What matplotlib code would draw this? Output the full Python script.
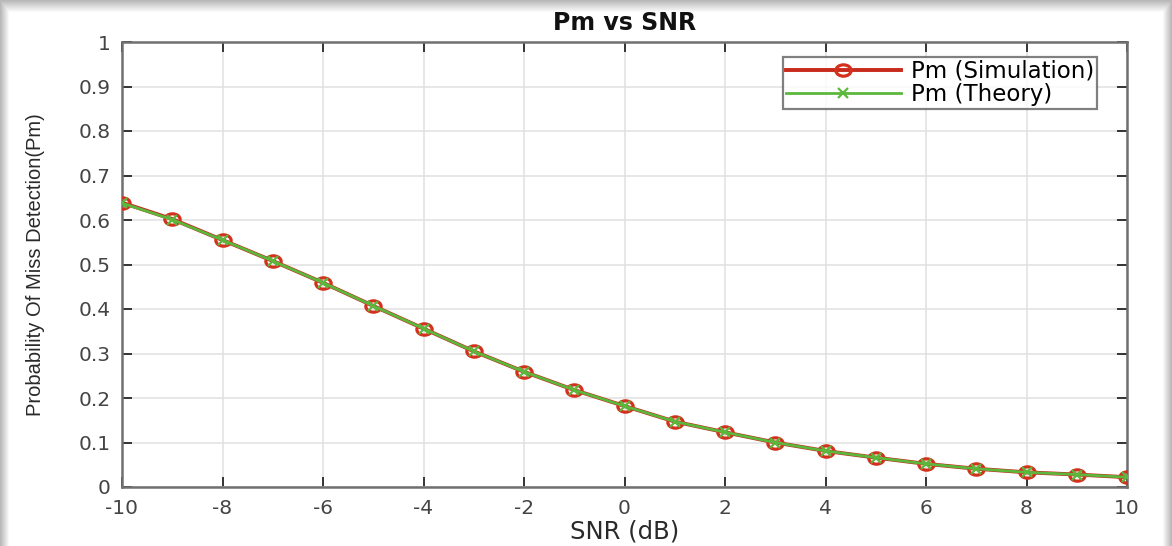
import matplotlib
matplotlib.use("Agg")
import matplotlib.pyplot as plt
import numpy as np
from matplotlib.path import Path
from matplotlib.transforms import Affine2D

# SNR in dB and probability of miss detection
snr_db = [-10, -9, -8, -7, -6, -5, -4, -3, -2, -1, 0, 1, 2, 3, 4, 5, 6, 7, 8, 9, 10]
pm_sim = [0.639, 0.602, 0.555, 0.508, 0.459, 0.407, 0.356, 0.305, 0.259, 0.218,
          0.182, 0.147, 0.123, 0.100, 0.081, 0.066, 0.052, 0.041, 0.033, 0.028, 0.022]
pm_theory = [0.638, 0.601, 0.555, 0.508, 0.459, 0.407, 0.356, 0.305, 0.259, 0.218,
             0.182, 0.147, 0.123, 0.100, 0.081, 0.066, 0.052, 0.041, 0.033, 0.028, 0.022]
xticks = list(range(-10, 11, 2))
yticks = [0, 0.1, 0.2, 0.3, 0.4, 0.5, 0.6, 0.7, 0.8, 0.9, 1]
ytick_labels = ["0", "0.1", "0.2", "0.3", "0.4", "0.5", "0.6", "0.7", "0.8", "0.9", "1"]

plt.rcParams["font.family"] = ["DejaVu Sans"]
plt.rcParams["axes.unicode_minus"] = False

W, H = 1172, 546
fig = plt.figure(figsize=(W / 100, H / 100), dpi=100)

# framed picture look: grey drop shadow at the top and sides
bg = fig.add_axes([0, 0, 1, 1], zorder=-5)
bg.axis("off")
img = np.ones((H, W))
top = np.clip(np.arange(H) / 12.0, 0, 1)
left = np.clip(np.arange(W) / 9.0, 0, 1)
right = np.clip((W - 1 - np.arange(W)) / 9.0, 0, 1)
img = np.minimum(img, 0.72 + 0.28 * top[:, None])
img = np.minimum(img, 0.72 + 0.28 * left[None, :])
img = np.minimum(img, 0.72 + 0.28 * right[None, :])
bg.imshow(img, cmap="gray", vmin=0, vmax=1, aspect="auto", interpolation="bilinear")

ax = fig.add_axes([122 / W, 1 - 487 / H, (1127 - 122) / W, (487 - 42) / H])

# the source image is stretched sideways, so circles come out as ellipses
oval = Path.unit_circle().transformed(Affine2D().scale(1.35, 1.0))

ax.plot(snr_db, pm_sim, color="#c82a1c", linewidth=2.8, marker=oval, markersize=11,
        markeredgecolor="#d4301e", markerfacecolor="none", markeredgewidth=2.3,
        label="Pm (Simulation)", zorder=3)
ax.plot(snr_db, pm_theory, color="#5cb83c", linewidth=2.0, marker="x", markersize=7,
        markeredgewidth=1.6, label="Pm (Theory)", zorder=4)

ax.set_xlim(-10, 10)
ax.set_ylim(0, 1)
ax.set_xticks(xticks)
ax.set_yticks(yticks)
ax.set_yticklabels(ytick_labels)
ax.tick_params(direction="in", top=True, right=True, length=7, width=1.3,
               labelsize=14.5, colors="#262626", labelcolor="#444444", pad=8.3)
ax.grid(True, color="#e0e0e0", linewidth=1.1)
ax.set_axisbelow(True)
for s in ax.spines.values():
    s.set_color("#707070")
    s.set_linewidth(1.8)

ax.set_title("Pm vs SNR", fontsize=17, fontweight="bold", color="#111111", pad=9)
ax.set_xlabel("SNR (dB)", fontsize=17.5, color="#2a2a2a")
ax.xaxis.set_label_coords(0.5, -0.073)
ax.set_ylabel("Probability Of Miss Detection(Pm)", fontsize=14.5, color="#2a2a2a",
              family=["Liberation Sans", "DejaVu Sans"])
ax.yaxis.set_label_coords(-0.077, 0.5)

leg = ax.legend(loc="upper right", bbox_to_anchor=(0.970, 0.966), fontsize=16.5,
                frameon=True, fancybox=False, handlelength=5.0, borderpad=0.12,
                labelspacing=0.0, handletextpad=0.45, borderaxespad=0)
leg.get_frame().set_edgecolor("#606060")
leg.get_frame().set_linewidth(1.6)

fig.savefig("out.png", dpi=100)
